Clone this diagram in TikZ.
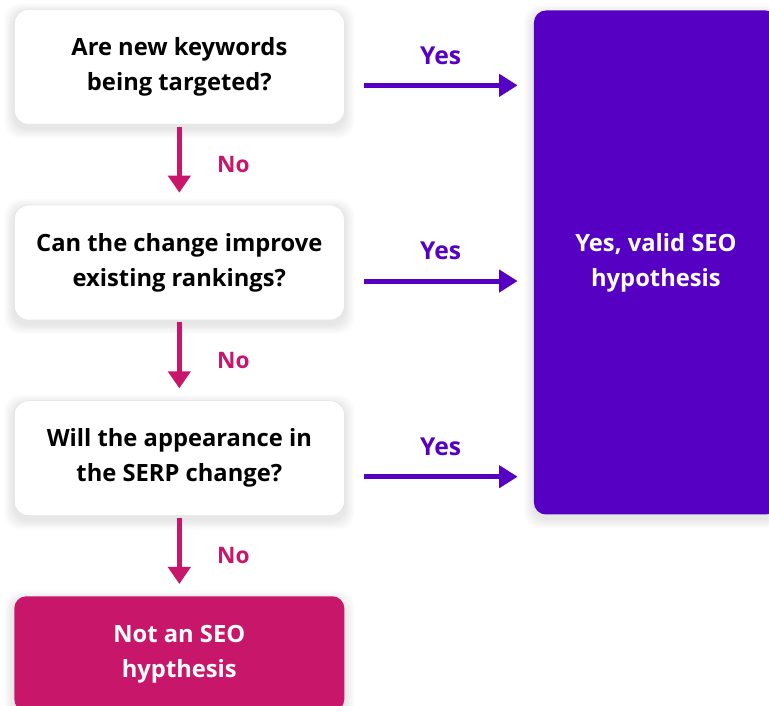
\documentclass[tikz,border=0pt]{standalone}
\usepackage{fontspec}
\setmainfont{Open Sans}
\usepackage{tikz}
\usetikzlibrary{arrows.meta,positioning,calc,backgrounds}
\definecolor{seopurple}{HTML}{5600C4}
\definecolor{seomagenta}{HTML}{C8166A}
\definecolor{boxedge}{HTML}{E4E4E4}
\tikzset{
  question/.style={draw=boxedge, line width=0.5pt, fill=white, rounded corners=10.5pt,
                   minimum width=247.5pt, minimum height=86.25pt, align=center,
                   font=\fontsize{17.8}{26.25}\selectfont\bfseries, text=black},
  verdict/.style={rounded corners=9pt, align=center, text=white,
                  font=\fontsize{17.8}{26.25}\selectfont\bfseries},
  softshadow/.style={fill=black, opacity=0.011, rounded corners=12pt},
  noflow/.style={-{Triangle[length=12.75pt, width=16.5pt]}, line width=3.75pt, seomagenta,
                 shorten <=1.5pt, shorten >=9pt},
  yesflow/.style={-{Triangle[length=14pt, width=16.5pt]}, line width=3.75pt, seopurple},
  nolabel/.style={text=seomagenta, font=\fontsize{17}{20}\selectfont\bfseries},
  yeslabel/.style={text=seopurple, font=\fontsize{18.5}{22}\selectfont\bfseries},
}

\begin{document}
\begin{tikzpicture}[node distance=60pt]
  \useasboundingbox (0,0) rectangle (576.75pt,-529.5pt);
  \node[question, anchor=north west] (q1) at (10.5pt,-6.75pt) {Are new keywords\\being targeted?};
  \node[question, below=of q1] (q2) {Can the change improve\\existing rankings?};
  \node[question, below=of q2] (q3) {Will the appearance in\\the SERP change?};
  \node[verdict, fill=seomagenta, minimum width=247.5pt, minimum height=86.25pt,
        below=of q3] (notseo) {Not an SEO\\hypthesis};
  \node[verdict, fill=seopurple, minimum width=183pt, minimum height=378pt,
        right=141.75pt of q2] (valid) {Yes, valid SEO\\hypothesis};
  % soft shadows behind the boxes
  \begin{scope}[on background layer]
    \fill[white] (0,0) rectangle (576.75pt,-529.5pt);
    \foreach \n in {q1,q2,q3,notseo,valid}
      \foreach \r in {1,...,8}
        \fill[softshadow] ($(\n.south west)+(-\r*0.9pt,-\r*0.9pt-3pt)$)
          rectangle ($(\n.north east)+(\r*0.9pt,\r*0.9pt-3pt)$);
  \end{scope}
  % no branch
  \foreach \a/\b in {q1/q2, q2/q3, q3/notseo}{
    \draw[noflow] (\a.south) -- (\b.north);
    \node[nolabel] at ($(\a.south)!0.5!(\b.north)+(40.5pt,0)$) {No};
  }
  % yes branch
  \foreach \q in {q1,q2,q3}{
    \coordinate (s\q) at ($(\q.east)+(14.25pt,-13.9pt)$);
    \coordinate (e\q) at ($(valid.west|-s\q)+(-12pt,0)$);
    \draw[yesflow] (s\q) -- (e\q);
    \node[yeslabel] at ($(s\q)!0.5!(e\q)+(0,22.5pt)$) {Yes};
  }
\end{tikzpicture}
\end{document}
